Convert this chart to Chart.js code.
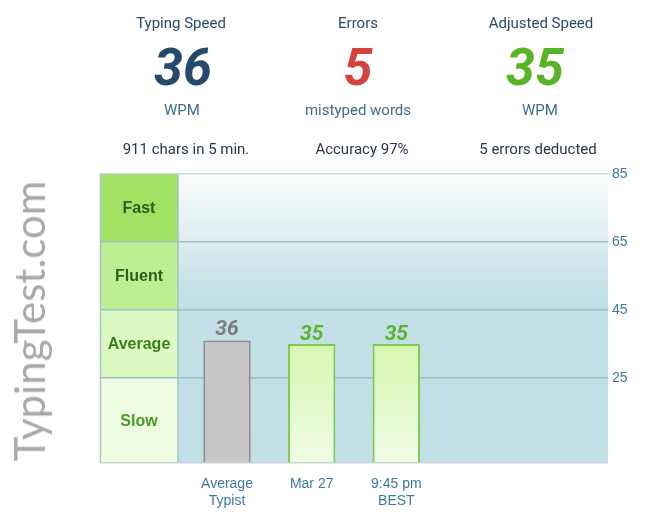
<!DOCTYPE html>
<html>
<head>
<meta charset="utf-8">
<script src="https://cdn.jsdelivr.net/npm/chart.js@4"></script>
<style>
  html,body{margin:0;padding:0;background:#fff;width:649px;height:531px;overflow:hidden;font-family:Roboto,"Liberation Sans",sans-serif;}
  #wrap{position:relative;width:649px;height:531px;}
  canvas{position:absolute;left:0;top:0;}
  .t{position:absolute;transform:translateX(-50%);white-space:nowrap;text-align:center;}
  .title{font-size:15px;color:#2a4a66;top:14px;}
  .big{font-size:52px;font-weight:700;font-style:italic;top:38px;line-height:60px;}
  .unit{font-size:15px;color:#3f6d8a;top:101px;}
  .foot{font-size:15px;color:#25394c;top:140px;}
  #wm{position:absolute;left:29px;top:321px;transform:translate(-50%,-50%) rotate(-90deg);font-family:Lato,"Liberation Sans",sans-serif;font-weight:400;font-size:42px;color:#a9a9a9;white-space:nowrap;}
</style>
</head>
<body>
<div id="wrap">
  <canvas id="c" width="649" height="531"></canvas>
  <div class="t title" style="left:181px">Typing Speed</div>
  <div class="t title" style="left:358px">Errors</div>
  <div class="t title" style="left:541px">Adjusted Speed</div>
  <div class="t big" id="n1" style="left:183px;color:#25496b">36</div>
  <div class="t big" id="n2" style="left:358px;color:#d5413f">5</div>
  <div class="t big" id="n3" style="left:535px;color:#59b526">35</div>
  <div class="t unit" style="left:182px">WPM</div>
  <div class="t unit" style="left:358px">mistyped words</div>
  <div class="t unit" style="left:540px">WPM</div>
  <div class="t foot" style="left:186px">911 chars in 5 min.</div>
  <div class="t foot" style="left:362px">Accuracy 97%</div>
  <div class="t foot" style="left:538px">5 errors deducted</div>
  <div id="wm">TypingTest.com</div>
</div>
<script>
// ---- data ----
const categories = ['', ['Average', 'Typist'], 'Mar 27', ['9:45 pm', 'BEST'], '', ''];
const wpmValues = [null, 36, 35, 35];
const valueLabels = ['', '36', '35', '35'];
const yTicks = [0, 25, 45, 65, 85];
const bandLabels = ['Slow', 'Average', 'Fluent', 'Fast'];
const bandLow = [0, 25, 45, 65];
const bandHigh = [25, 45, 65, 85];

// ---- styles ----
const bandFill = ['#eefde1', '#dcfbc2', '#bcef92', '#a0e264'];
const bandText = ['#4a9a24', '#3b7d1e', '#2e5a1b', '#2e5a1b'];
const barBorders = [null, '#8e8e8e', '#7dca4c', '#7dca4c'];
const valueColors = [null, '#7b7b7b', '#5ab52a', '#5ab52a'];

function barFill(ctx) {
  const chart = ctx.chart;
  const i = ctx.dataIndex;
  if (i === 1) return '#c6c6c6';
  const area = chart.chartArea;
  if (!area) return '#e6f9d2';
  const y = chart.scales.y;
  const g = chart.ctx.createLinearGradient(0, y.getPixelForValue(35), 0, area.bottom);
  g.addColorStop(0, '#d6f8b0');
  g.addColorStop(1, '#f1fbe6');
  return g;
}

const BAND_W = 78;

const bgPlugin = {
  id: 'bg',
  beforeDraw(chart) {
    const {ctx, chartArea: a, scales: {y}} = chart;
    const x0 = a.left + BAND_W;
    const g = ctx.createLinearGradient(0, a.top, 0, a.bottom);
    const yMid = y.getPixelForValue(50);
    g.addColorStop(0, '#fbfdfd');
    g.addColorStop((yMid - a.top) / (a.bottom - a.top), '#c3e0e6');
    g.addColorStop(1, '#c2dfe5');
    ctx.save();
    ctx.fillStyle = g;
    ctx.fillRect(x0, a.top, a.right - x0, a.bottom - a.top);
    for (let i = 0; i < bandLabels.length; i++) {
      const yt = y.getPixelForValue(bandHigh[i]);
      const yb = y.getPixelForValue(bandLow[i]);
      ctx.fillStyle = bandFill[i];
      ctx.fillRect(a.left, yt, BAND_W, yb - yt);
      ctx.fillStyle = bandText[i];
      ctx.font = 'bold 16px "Liberation Sans", Arial, sans-serif';
      ctx.textAlign = 'center';
      ctx.textBaseline = 'middle';
      ctx.fillText(bandLabels[i], a.left + BAND_W / 2, (yt + yb) / 2 + 1);
    }
    ctx.strokeStyle = '#a6c2c8';
    ctx.lineWidth = 1.5;
    ctx.beginPath();
    ctx.moveTo(a.left + 0.5, a.top);
    ctx.lineTo(a.left + 0.5, a.bottom);
    ctx.moveTo(x0, a.top);
    ctx.lineTo(x0, a.bottom);
    ctx.stroke();
    ctx.restore();
  },
  afterDatasetsDraw(chart) {
    const {ctx} = chart;
    const meta = chart.getDatasetMeta(0);
    ctx.save();
    ctx.font = 'italic bold 21px Roboto, sans-serif';
    ctx.textAlign = 'center';
    ctx.textBaseline = 'alphabetic';
    meta.data.forEach((bar, i) => {
      if (!valueLabels[i]) return;
      ctx.fillStyle = valueColors[i];
      ctx.fillText(valueLabels[i], bar.x, bar.y - (i === 1 ? 6 : 4));
    });
    ctx.restore();
  }
};

new Chart(document.getElementById('c'), {
  type: 'bar',
  data: {
    labels: categories,
    datasets: [{
      data: wpmValues,
      backgroundColor: barFill,
      borderColor: barBorders,
      borderWidth: 2,
      borderSkipped: 'bottom',
      barPercentage: 0.56,
      categoryPercentage: 1
    }]
  },
  options: {
    responsive: false,
    animation: false,
    events: [],
    layout: {padding: {left: 100, top: 174, right: 0, bottom: 0}},
    plugins: {legend: {display: false}, tooltip: {enabled: false}},
    scales: {
      x: {
        grid: {display: false},
        border: {display: false},
        ticks: {
          color: '#3b7a9c',
          font: {family: '"Liberation Sans", Arial, sans-serif', size: 14},
          padding: 5,
          maxRotation: 0,
          autoSkip: false
        },
        afterFit(s) { s.height = 68; }
      },
      y: {
        position: 'right',
        min: 0, max: 85,
        afterBuildTicks(s) { s.ticks = yTicks.map(v => ({value: v})); },
        grid: {
          color: c => c.tick && c.tick.value === 85 ? '#c6d7da' : (c.tick && c.tick.value === 0 ? '#c9d3d5' : '#9cbec6'),
          lineWidth: 1.5,
          drawTicks: false
        },
        border: {display: false},
        ticks: {
          color: '#3b7a9c',
          font: {family: '"Liberation Sans", Arial, sans-serif', size: 14},
          padding: 4,
          callback: v => v === 0 ? '' : String(v)
        },
        afterFit(s) { s.width = 41; }
      }
    }
  },
  plugins: [bgPlugin]
});
</script>
</body>
</html>
